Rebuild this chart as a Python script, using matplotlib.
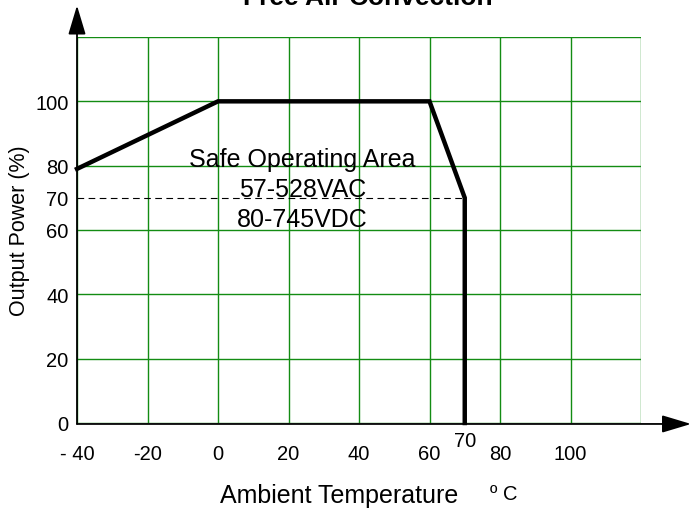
import matplotlib
matplotlib.use('Agg')
import matplotlib.pyplot as plt

# ── Data ─────────────────────────────────────────────────────────────────────
temp_c    = [-40, 0, 60, 70, 70]
power_pct = [79, 100, 100, 70, 0]
x_grid    = [-40, -20, 0, 20, 40, 60, 80, 100, 120]
y_grid    = [0, 20, 40, 60, 80, 100, 120]
x_ticks   = [-40, -20, 0, 20, 40, 60, 80, 100]
x_labels  = ['- 40', '-20', '0', '20', '40', '60', '80', '100']
y_ticks   = [0, 20, 40, 60, 70, 80, 100]
y_labels  = ['0', '20', '40', '60', '70', '80', '100']
derate_level = 70
derate_temp  = 70

plt.rcParams['font.family'] = ['Liberation Sans', 'DejaVu Sans']

fig = plt.figure(figsize=(6.89, 5.10), dpi=100)
W, H = 689, 510
ax = fig.add_axes([77 / W, 86 / H, (641 - 77) / W, (424 - 38) / H])
ax.set_xlim(-40, 120)
ax.set_ylim(0, 120)

green = '#138c13'
for gx in x_grid:
    ax.axvline(gx, color=green, lw=1.0, zorder=1)
for gy in y_grid:
    ax.axhline(gy, color=green, lw=1.0, zorder=1)

for s in ax.spines.values():
    s.set_visible(False)

# axes with arrow heads
arrow = dict(arrowstyle='-|>,head_length=0.9,head_width=0.27',
             mutation_scale=20, color='black', lw=1.3, shrinkA=0, shrinkB=0)
ax.annotate('', xy=(-40, 129.8), xytext=(-40, -0.3), arrowprops=arrow,
            annotation_clip=False, zorder=5)
ax.annotate('', xy=(134.2, -0.3), xytext=(-40, -0.3), arrowprops=arrow,
            annotation_clip=False, zorder=5)

# derating curve
ax.plot(temp_c, power_pct, color='black', lw=3.2, solid_joinstyle='miter',
        clip_on=False, zorder=6)
ax.plot([-40, derate_temp], [derate_level, derate_level], color='black',
        lw=0.8, ls=(0, (6, 4)), zorder=4)

ax.text(24, 82.0, 'Safe Operating Area', ha='center', va='center', fontsize=18, zorder=7)
ax.text(24, 72.7, '57-528VAC', ha='center', va='center', fontsize=18, zorder=7)
ax.text(24, 63.4, '80-745VDC', ha='center', va='center', fontsize=18, zorder=7)

ax.set_xticks(x_ticks)
ax.set_xticklabels(x_labels, fontsize=14.5)
ax.set_yticks(y_ticks)
ax.set_yticklabels(y_labels, fontsize=14.5)
ax.tick_params(axis='x', length=0, pad=15)
ax.tick_params(axis='y', length=0, pad=6)
ax.text(derate_temp, -2.6, '70', ha='center', va='top', fontsize=14.5)

ax.set_ylabel('Output Power (%)', fontsize=15.5, labelpad=4)
fig.text(339 / W, 1 - 496 / H, 'Ambient Temperature', ha='center', va='center', fontsize=18)
fig.text(504 / W, 1 - 495 / H, 'º C', ha='center', va='center', fontsize=14.5)

fig.text(368 / W, 1 - 5 / H, 'Free Air Convection', ha='center', va='baseline',
         fontsize=19, fontweight='bold')

fig.savefig('out.png', dpi=100)
